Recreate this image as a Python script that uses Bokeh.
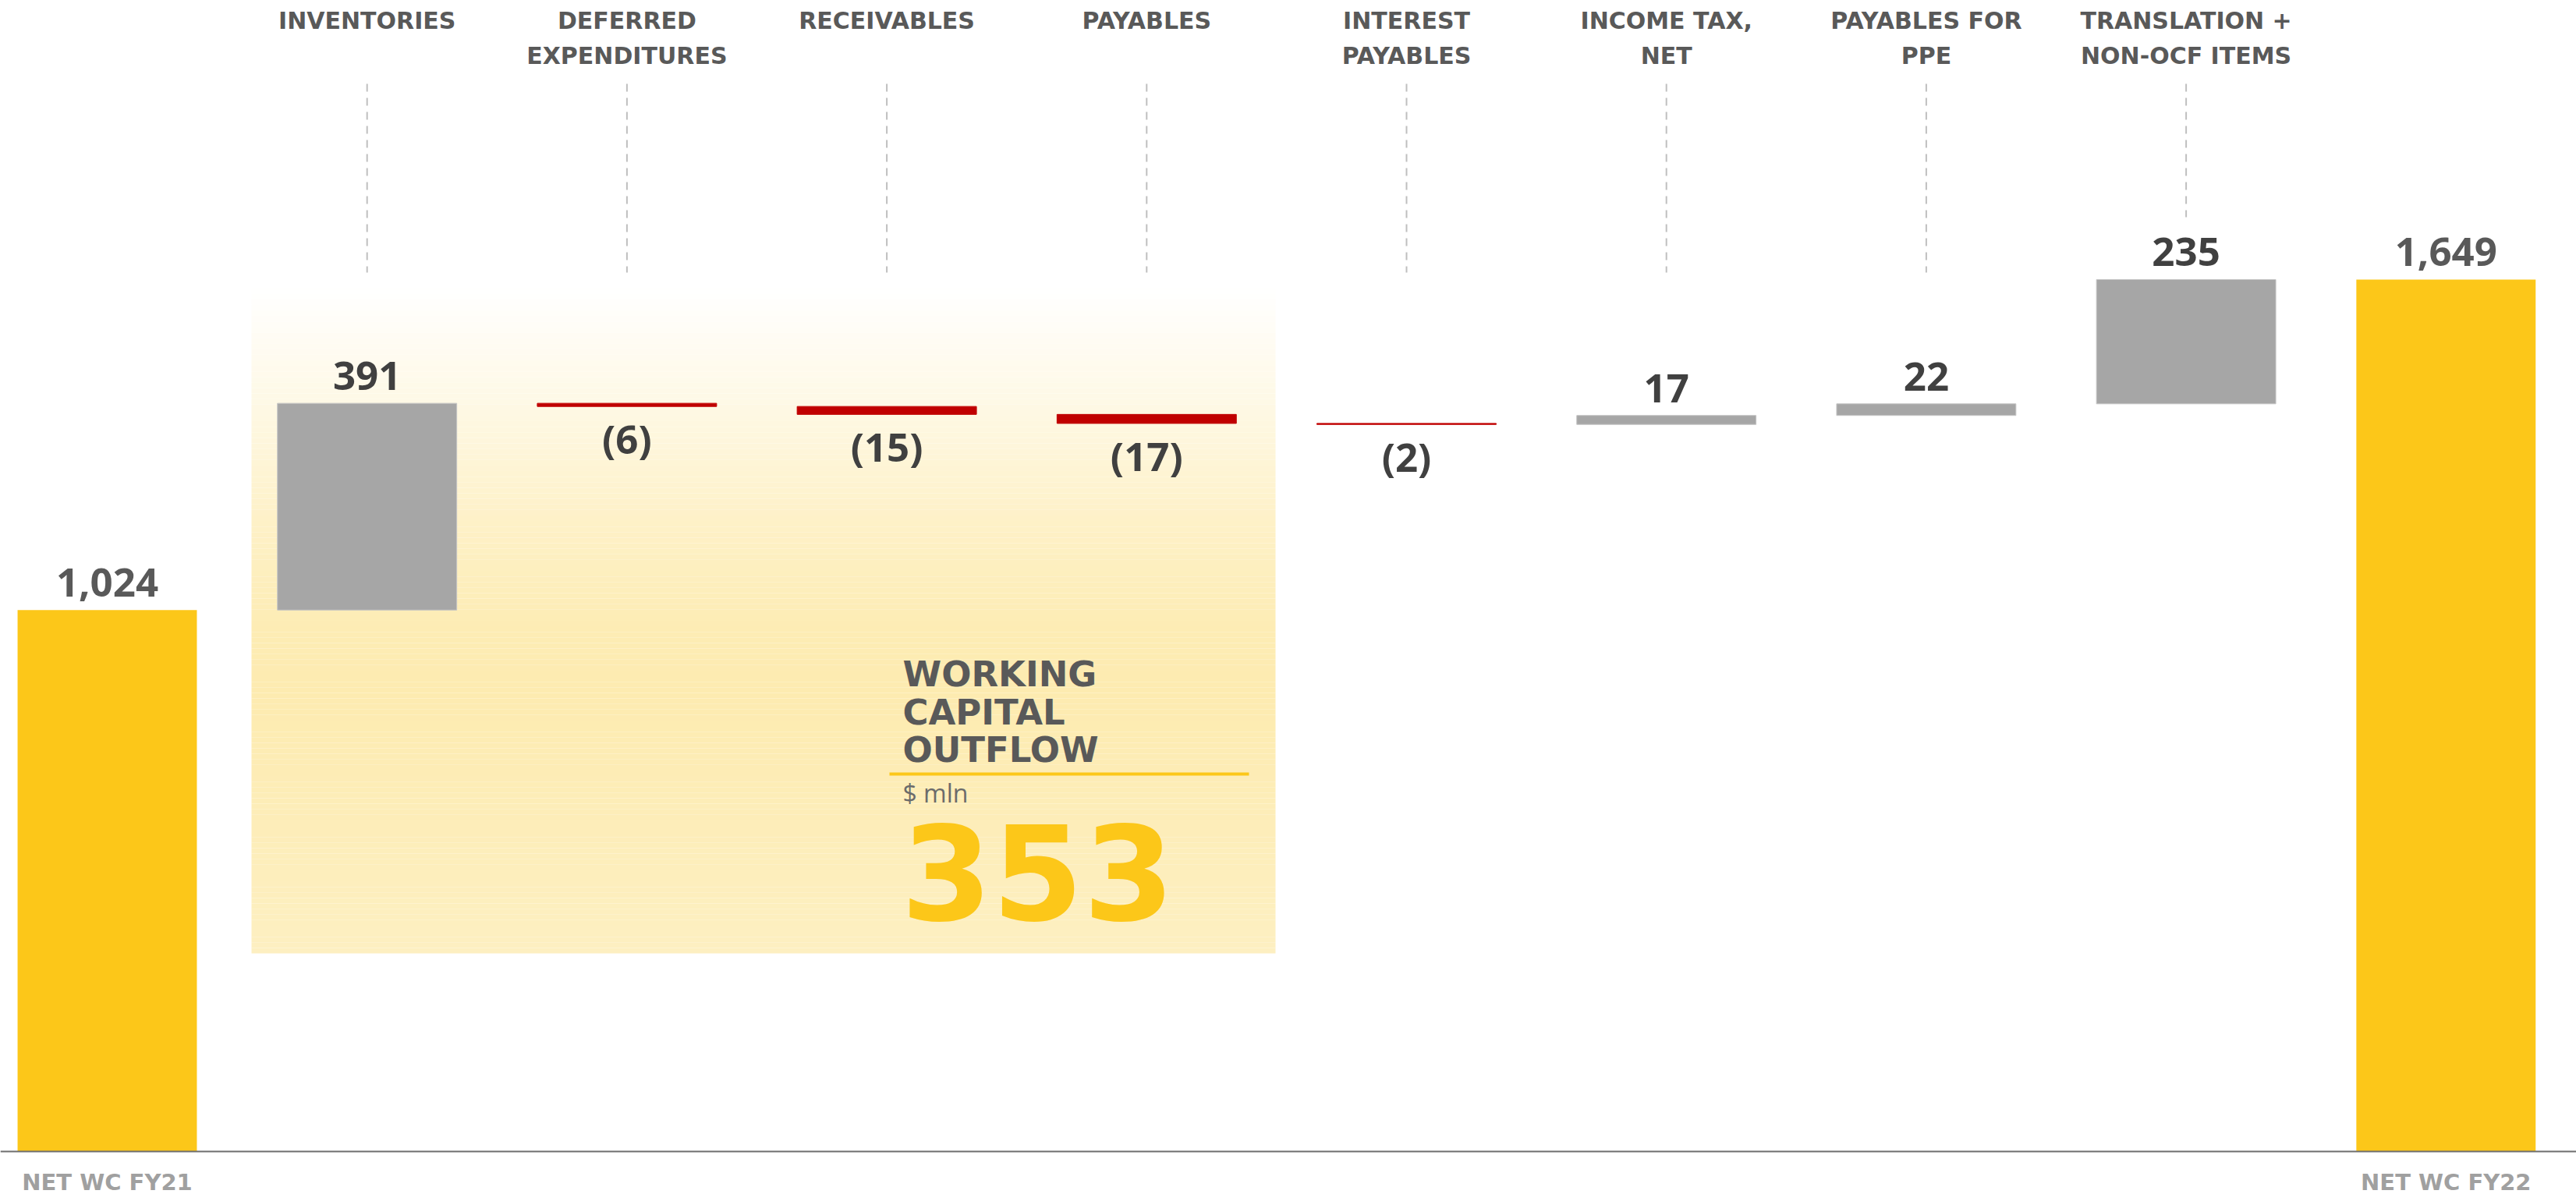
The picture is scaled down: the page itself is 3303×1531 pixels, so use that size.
import numpy as np
from bokeh.plotting import figure
from bokeh.models import Range1d, Span
from bokeh.core.properties import value
from bokeh.embed import file_html
from bokeh.resources import INLINE

# ---------------- data ----------------
start_label = "NET WC FY21"
end_label = "NET WC FY22"
change_labels = [
    "INVENTORIES",
    "DEFERRED\nEXPENDITURES",
    "RECEIVABLES",
    "PAYABLES",
    "INTEREST\nPAYABLES",
    "INCOME TAX,\nNET",
    "PAYABLES FOR\nPPE",
    "TRANSLATION +\nNON-OCF ITEMS",
]
start_value = 1024
changes = [391, -6, -15, -17, -2, 17, 22, 235]
end_value = 1649
outflow_title = ["WORKING", "CAPITAL", "OUTFLOW"]
outflow_unit = "$ mln"
outflow_total = 353

# ---------------- layout / style ----------------
W, H = 3303, 1531
UNIT_PX = 333.2          # px per category
X0_PX = 137.0            # px position of first category centre
BASE_PX = 1476.0         # px position of zero
VAL_PX = 0.678           # px per value unit
BAR_W = 0.69

YELLOW = "#FCC719"
GRAY = "#A6A6A6"
RED = "#C00000"
DARK = "#404040"
MID = "#595959"
LIGHT = "#A0A0A0"

x_start = -X0_PX / UNIT_PX
x_end = x_start + W / UNIT_PX
y_end = BASE_PX / VAL_PX
y_start = -(H - BASE_PX) / VAL_PX


def ydat(py):
    return (BASE_PX - py) / VAL_PX


def xdat(px):
    return px / UNIT_PX + x_start


p = figure(width=W, height=H, x_range=Range1d(x_start, x_end),
           y_range=Range1d(y_start, y_end), output_backend="svg",
           toolbar_location=None, min_border=0,
           x_axis_location=None, y_axis_location=None)
p.grid.visible = False
p.outline_line_color = None
p.background_fill_color = "white"
p.border_fill_color = "white"

# ---------------- waterfall geometry ----------------
n = len(changes)
idx_changes = np.arange(1, n + 1)
running = start_value + np.cumsum(changes)
prev = np.concatenate([[start_value], running[:-1]])
bottoms = np.minimum(prev, running)
tops = np.maximum(prev, running)
colors = [GRAY if c > 0 else RED for c in changes]

# ---------------- highlight panel (gradient) ----------------
panel_left = xdat(322)
panel_right = xdat(1635)
y_top_px, y_bot_px = 369.0, 1222.0
nstrip = 120
edges = np.linspace(y_top_px, y_bot_px, nstrip + 1)
mids = 0.5 * (edges[:-1] + edges[1:])
tt = np.interp(mids, [369, 528, 658, 808, 888, 1222], [0.0, 0.35, 0.68, 0.95, 1.0, 0.78])
peak = np.array([253, 235, 176])
cols = []
for t in tt:
    c = 255 - (255 - peak) * t
    cols.append("#%02x%02x%02x" % tuple(int(round(v)) for v in c))
p.quad(left=[panel_left] * nstrip, right=[panel_right] * nstrip,
       top=[ydat(e) for e in edges[:-1]], bottom=[ydat(e) for e in edges[1:]],
       fill_color=cols, line_color=None)

# ---------------- leader lines + category labels ----------------
lead_top = ydat(107)
lead_bot = []
for t in tops:
    bar_top_px = BASE_PX - t * VAL_PX
    lead_bot.append(ydat(min(349.0, bar_top_px - 80.0)))
p.segment(x0=idx_changes, x1=idx_changes, y0=[lead_top] * n, y1=lead_bot,
          line_color="#BFBFBF", line_width=2, line_dash="10 8")

line1 = [s.split("\n")[0] for s in change_labels]
line2x = [i for i, s in zip(idx_changes, change_labels) if "\n" in s]
line2 = [s.split("\n")[1] for s in change_labels if "\n" in s]
lab_kw = dict(text_font=value("DejaVu Sans"), text_font_style="bold",
              text_font_size="30px", text_color=MID, text_align="center",
              text_baseline="middle")
p.text(x=idx_changes, y=[ydat(26)] * n, text=line1, **lab_kw)
p.text(x=line2x, y=[ydat(71)] * len(line2), text=line2, **lab_kw)

# ---------------- bars ----------------
p.vbar(x=[0, n + 1], width=BAR_W, bottom=0, top=[start_value, end_value],
       fill_color=YELLOW, line_color=None)
p.vbar(x=idx_changes, width=BAR_W, bottom=bottoms, top=tops,
       fill_color=colors, line_color=[("#C4C4C4" if c > 0 else RED) for c in changes],
       line_width=1)

p.add_layout(Span(location=0, dimension="width", line_color="#6E6E6E", line_width=2))

# ---------------- value labels ----------------
num_kw = dict(text_font=value("Open Sans"), text_font_style="bold",
              text_font_size="51px", text_align="center")
pos_mask = [c > 0 for c in changes]
p.text(x=[i for i, m in zip(idx_changes, pos_mask) if m],
       y=[t for t, m in zip(tops, pos_mask) if m],
       text=[f"{c:,}" for c, m in zip(changes, pos_mask) if m],
       text_color=DARK, text_baseline="alphabetic", y_offset=-35, **num_kw)
p.text(x=[i for i, m in zip(idx_changes, pos_mask) if not m],
       y=[b for b, m in zip(bottoms, pos_mask) if not m],
       text=[f"({abs(c):,})" for c, m in zip(changes, pos_mask) if not m],
       text_color=DARK, text_baseline="top", y_offset=6, **num_kw)
p.text(x=[0, n + 1], y=[start_value, end_value],
       text=[f"{start_value:,}", f"{end_value:,}"],
       text_color=MID, text_baseline="alphabetic", y_offset=-35, **num_kw)

# bottom labels
p.text(x=[0, n + 1], y=[ydat(1515)] * 2, text=[start_label, end_label],
       text_font=value("DejaVu Sans"), text_font_style="bold", text_font_size="29px",
       text_color=LIGHT, text_align="center", text_baseline="middle")

# ---------------- working capital outflow callout ----------------
tx = xdat(1157)
p.text(x=[tx] * 3, y=[ydat(864), ydat(913), ydat(961)], text=outflow_title,
       text_font=value("DejaVu Sans"), text_font_style="bold", text_font_size="45px",
       text_color=MID, text_align="left", text_baseline="middle")
p.segment(x0=[xdat(1140)], x1=[xdat(1601)], y0=[ydat(992)], y1=[ydat(992)],
          line_color=YELLOW, line_width=4)
p.text(x=[tx], y=[ydat(1016)], text=[outflow_unit],
       text_font=value("Open Sans"), text_font_size="32px",
       text_color="#6B6B6B", text_align="left", text_baseline="middle")
p.text(x=[xdat(1330)], y=[ydat(1118)], text=[str(outflow_total)],
       text_font=value("DejaVu Sans"), text_font_style="bold", text_font_size="168px",
       text_color=YELLOW, text_align="center", text_baseline="middle")

open("out.html", "w").write(file_html(p, INLINE))
